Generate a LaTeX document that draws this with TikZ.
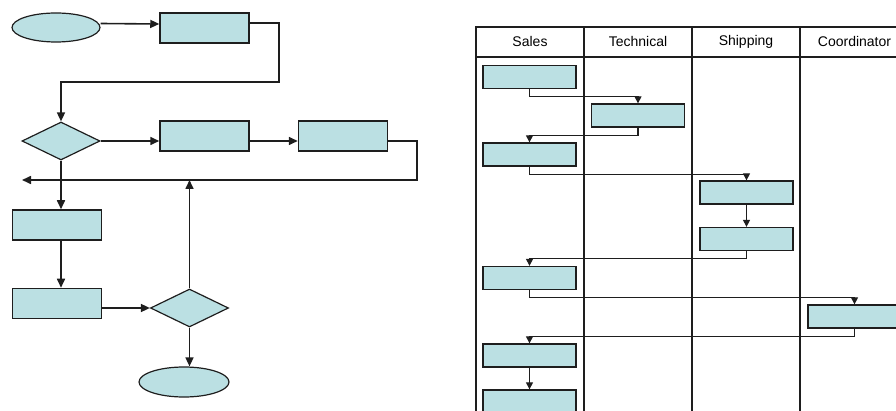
\documentclass[tikz,border=0pt]{standalone}
\usepackage{fontspec}
\setmainfont{Liberation Sans}
\usetikzlibrary{shapes.geometric,arrows.meta}
\definecolor{boxfill}{RGB}{187,224,227}
\definecolor{linegray}{RGB}{30,30,30}

\begin{document}
\begin{tikzpicture}[x=1pt,y=-1pt,
    proc/.style={rectangle,draw=linegray,fill=boxfill,line width=1.5pt,minimum width=89pt,minimum height=30pt,inner sep=0pt},
    decision/.style={diamond,draw=linegray,fill=boxfill,line width=1.2pt,minimum width=78pt,minimum height=38pt,inner sep=0pt},
    terminal/.style={ellipse,draw=linegray,fill=boxfill,line width=1.2pt,minimum width=88pt,minimum height=29pt,inner sep=0pt},
    lanebox/.style={rectangle,draw=linegray,fill=boxfill,line width=1.3pt,minimum width=93pt,minimum height=23pt,inner sep=0pt},
    flow/.style={draw=linegray,line width=1.6pt,-{Triangle[width=8pt,length=9pt]}},
    hand/.style={draw=linegray,line width=1.2pt,-{Triangle[width=7pt,length=7pt]}},
    lane/.style={draw=linegray,line width=1.3pt}
]
\useasboundingbox (0,0) rectangle (896,411);
\clip (0,0) rectangle (896,411);

% plain flow chart
\node[terminal] (Start) at (56,27.5) {};
\node[proc] (Step1) at (204.5,28) {};
\node[decision] (Ask1) at (61,141) {};
\node[proc] (Step2) at (204.5,136) {};
\node[proc] (Step3) at (343,136) {};
\node[proc] (Step4) at (57,225) {};
\node[proc] (Step5) at (57,303.5) {};
\node[decision] (Ask2) at (189.5,308) {};
\node[terminal, minimum width=90pt, minimum height=30pt] (Stop) at (184,382) {};

\coordinate (Turn1) at (279,82);
\coordinate (Turn2) at (417,180);
\coordinate (Back) at (22,180);

\draw[flow] ([yshift=4pt]Start.east) -- ([yshift=4pt]Step1.west);
\draw[flow] ([yshift=5pt]Step1.east) -| (Turn1) -| (Ask1.north);
\draw[flow] (Ask1.east) -- (Ask1.east -| Step2.west);
\draw[flow] (Step2.east |- Ask1.east) -- (Step3.west |- Ask1.east);
\draw[flow] (Step3.east |- Ask1.east) -| (Turn2) -- (Back);
\draw[flow] (Ask1.south) -- (Ask1.south |- Step4.north);
\draw[flow] (Ask1.south |- Step4.south) -- (Ask1.south |- Step5.north);
\draw[flow] (Step5.east |- Ask2.west) -- (Ask2.west);
\draw[flow] (Ask2.north) -- (Ask2.north |- Turn2);
\draw[flow] (Ask2.south) -- (Ask2.south |- Stop.north);

% swim lanes
\draw[lane] (476,420) -- (476,27) -- (920,27);
\draw[lane] (476,57) -- (920,57);
\foreach \x in {584,692,800}
    \draw[lane] (\x,27) -- (\x,420);

\node[font=\fontsize{14}{16}\selectfont] (Sales) at (530,42) {Sales};
\node[font=\fontsize{14}{16}\selectfont] (Technical) at (638,42) {Technical};
\node[font=\fontsize{14}{16}\selectfont] (Shipping) at (746,42) {Shipping};
\node[font=\fontsize{14}{16}\selectfont] (Coordinator) at (854.5,42) {Coordinator};

\node[lanebox] (Sal1) at (529.5,77) {};
\node[lanebox] (Tec1) at (638,115.5) {};
\node[lanebox] (Sal2) at (529.5,154.5) {};
\node[lanebox] (Shi1) at (746.5,192.5) {};
\node[lanebox] (Shi2) at (746.5,239) {};
\node[lanebox] (Sal3) at (529.5,278) {};
\node[lanebox] (Coo1) at (854.5,316.5) {};
\node[lanebox] (Sal4) at (529.5,355.5) {};
\node[lanebox] (Sal5) at (529.5,401.5) {};

\draw[hand] (Sal1.south) -- ++(0,7.5) -| (Tec1.north);
\draw[hand] (Tec1.south) -- ++(0,7.5) -| (Sal2.north);
\draw[hand] (Sal2.south) -- ++(0,7.5) -| (Shi1.north);
\draw[hand] (Shi1.south) -- (Shi2.north);
\draw[hand] (Shi2.south) -- ++(0,7.5) -| (Sal3.north);
\draw[hand] (Sal3.south) -- ++(0,7.5) -| (Coo1.north);
\draw[hand] (Coo1.south) -- ++(0,7.5) -| (Sal4.north);
\draw[hand] (Sal4.south) -- (Sal5.north);

\end{tikzpicture}
\end{document}
